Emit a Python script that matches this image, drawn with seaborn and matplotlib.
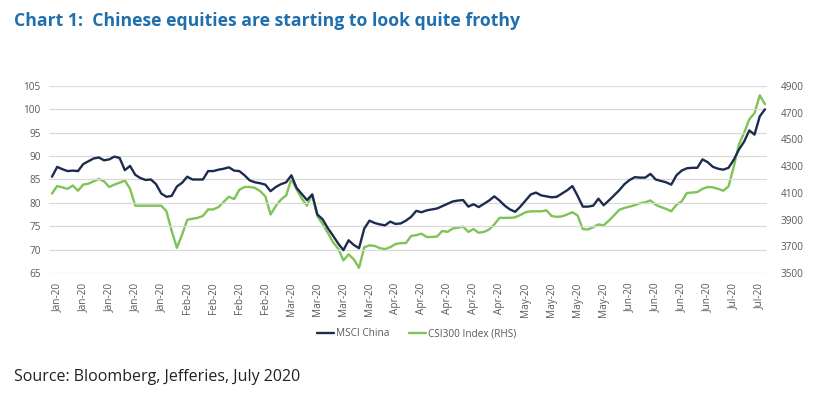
import matplotlib
matplotlib.use("Agg")
import matplotlib.pyplot as plt
import seaborn as sns
import pandas as pd
import numpy as np

# ---- data ----
tick_labels = (["Jan-20"] * 5 + ["Feb-20"] * 4 + ["Mar-20"] * 4 + ["Apr-20"] * 5 +
               ["May-20"] * 4 + ["Jun-20"] * 4 + ["Jul-20"] * 2)

msci_china = [
    85.6, 87.7, 87.2, 86.8, 86.9, 86.8, 88.3, 88.9, 89.5, 89.7,
    89.1, 89.3, 89.9, 89.6, 87.0, 87.9, 86.0, 85.3, 84.9, 85.0,
    84.0, 82.0, 81.3, 81.5, 83.5, 84.3, 85.6, 85.0, 85.0, 85.0,
    86.8, 86.8, 87.1, 87.3, 87.6, 86.9, 86.8, 85.9, 84.8, 84.4,
    84.2, 83.9, 82.5, 83.4, 84.0, 84.4, 85.9, 83.2, 81.9, 80.6,
    81.8, 77.5, 76.5, 74.6, 73.0, 71.3, 69.9, 72.0, 71.0, 70.3,
    74.5, 76.2, 75.7, 75.4, 75.2, 76.0, 75.5, 75.6, 76.2, 77.0,
    78.3, 78.0, 78.4, 78.6, 78.8, 79.3, 79.8, 80.3, 80.5, 80.6,
    79.2, 79.7, 79.1, 79.8, 80.5, 81.4, 80.5, 79.4, 78.6, 78.1,
    79.2, 80.5, 81.8, 82.2, 81.6, 81.4, 81.2, 81.3, 82.0, 82.7,
    83.6, 81.5, 79.2, 79.2, 79.4, 80.9, 79.5, 80.5, 81.6, 82.7,
    84.0, 84.9, 85.5, 85.4, 85.4, 86.2, 85.0, 84.7, 84.4, 83.9,
    85.9, 86.9, 87.4, 87.5, 87.5, 89.3, 88.7, 87.7, 87.3, 87.1,
    87.5, 89.2, 91.4, 93.1, 95.5, 94.6, 98.5, 100.0,
]

csi300 = [
    4095, 4151, 4141, 4130, 4155, 4116, 4162, 4169, 4186, 4204,
    4186, 4144, 4162, 4176, 4193, 4130, 4004, 4004, 4004, 4004,
    4004, 4004, 3962, 3815, 3689, 3787, 3899, 3906, 3913, 3927,
    3976, 3976, 3994, 4032, 4071, 4053, 4123, 4144, 4144, 4137,
    4113, 4074, 3938, 4001, 4050, 4081, 4204, 4127, 4057, 4004,
    4088, 3924, 3868, 3801, 3731, 3682, 3595, 3640, 3602, 3539,
    3693, 3707, 3703, 3686, 3679, 3693, 3717, 3724, 3724, 3777,
    3784, 3794, 3770, 3770, 3773, 3815, 3808, 3833, 3840, 3847,
    3808, 3829, 3801, 3808, 3826, 3864, 3913, 3913, 3913, 3917,
    3934, 3955, 3962, 3962, 3962, 3969, 3927, 3920, 3924, 3938,
    3955, 3931, 3829, 3826, 3843, 3864, 3857, 3892, 3931, 3973,
    3987, 3997, 4008, 4022, 4029, 4043, 4011, 3994, 3980, 3962,
    4011, 4036, 4099, 4102, 4106, 4130, 4144, 4141, 4130, 4116,
    4148, 4295, 4463, 4550, 4651, 4697, 4830, 4764,
]

left_ticks = [65, 70, 75, 80, 85, 90, 95, 100, 105]
right_ticks = [3500, 3700, 3900, 4100, 4300, 4500, 4700, 4900]

df = pd.DataFrame({"idx": range(len(msci_china)), "msci": msci_china, "csi": csi300})
tick_pos = list(range(1, 1 + 5 * len(tick_labels), 5))

# ---- styling ----
sns.set_style("white")
plt.rcParams["font.family"] = ["Open Sans", "DejaVu Sans"]

NAVY = "#1c2c4e"
GREEN = "#7ec356"
GRID = "#d9d9d9"
TXT = "#595959"

fig = plt.figure(figsize=(8.30, 3.98), dpi=100)
ax = fig.add_axes([0.059, 0.314, 0.865, 0.470])
ax2 = ax.twinx()

sns.lineplot(data=df, x="idx", y="msci", ax=ax, color=NAVY, linewidth=1.7, label="MSCI China", legend=False)
sns.lineplot(data=df, x="idx", y="csi", ax=ax2, color=GREEN, linewidth=1.7, label="CSI300 Index (RHS)", legend=False)
ax.set_zorder(ax2.get_zorder() + 1)
ax.patch.set_visible(False)

ax.set_xlim(-0.58, len(msci_china) - 1 + 0.38)
ax.set_ylim(65, 105)
ax2.set_ylim(3500, 4900)
ax.set_yticks(left_ticks)
ax2.set_yticks(right_ticks)
ax.set_xticks(tick_pos)
ax.set_xticklabels(tick_labels, rotation=90)

for a in (ax, ax2):
    for s in a.spines.values():
        s.set_visible(False)
    a.set_xlabel("")
    a.set_ylabel("")
    a.tick_params(length=0, labelsize=7.2, labelcolor=TXT)
ax.tick_params(axis="y", pad=6)
ax2.tick_params(axis="y", pad=10)
ax.tick_params(axis="x", pad=7)

for v in left_ticks:
    ax.axhline(v, color=GRID, linewidth=0.9, zorder=0)
ax2.grid(False)
ax.grid(False)

h1, l1 = ax.get_legend_handles_labels()
h2, l2 = ax2.get_legend_handles_labels()
fig.legend(h1 + h2, l1 + l2, loc="center", bbox_to_anchor=(0.502, 0.161), ncol=2,
           frameon=False, fontsize=7.2, labelcolor=TXT, handlelength=1.7,
           handletextpad=0.15, columnspacing=2.0)

fig.text(0.017, 0.948, "Chart 1:  Chinese equities are starting to look quite frothy",
         fontsize=12.7, fontweight="bold", color="#1f6fae", va="center", ha="left")
fig.text(0.017, 0.053, "Source: Bloomberg, Jefferies, July 2020",
         fontsize=11.5, color="#222222", va="center", ha="left")

fig.savefig("out.png", dpi=100)
